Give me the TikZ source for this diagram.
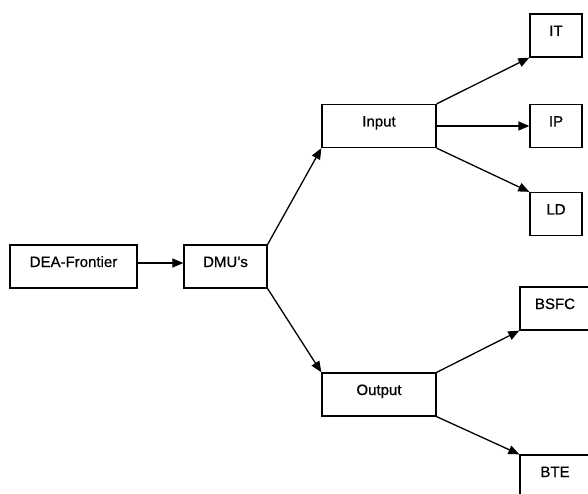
\documentclass[tikz,border=0pt]{standalone}
\usepackage{fontspec}
\setmainfont{Liberation Sans}
\newfontfamily\boxfont[FakeBold=0.7]{Liberation Sans}
\usetikzlibrary{arrows.meta}
\begin{document}
\begin{tikzpicture}[x=1pt,y=-1pt,
  box/.style={draw=black,line width=1.3pt,rectangle,minimum height=43pt,inner sep=0pt,
    text height=6pt,text depth=5pt,font=\boxfont\fontsize{15}{18}\selectfont},
  conn/.style={line width=1.3pt,-{Triangle[length=11pt,width=9pt]}}]
\clip (0,0) rectangle (588,494);
\fill[white] (0,0) rectangle (588,494);
\node[box,minimum width=127pt] (dea) at (73.5,266.5) {DEA-Frontier};
\node[box,minimum width=83pt] (dmu) at (225.5,266.5) {DMU’s};
\node[box,minimum width=114pt] (inp) at (379,126) {Input};
\node[box,minimum width=114pt] (out) at (379,394.5) {Output};
\node[box,minimum width=52pt] (it) at (556,35.5) {IT};
\node[box,minimum width=52pt] (ip) at (556,126) {IP};
\node[box,minimum width=52pt] (ld) at (556,214) {LD};
\node[box,minimum width=70pt] (bsfc) at (555,308.5) {BSFC};
\node[box,minimum width=70pt] (bte) at (555,476.5) {BTE};
\draw[conn] ([yshift=3.5pt]dea.east) -- ([yshift=3.5pt]dmu.west);
\draw[conn] (dmu.north east) -- (inp.south west);
\draw[conn] (dmu.south east) -- (out.north west);
\draw[conn] (inp.north east) -- (it.south west);
\draw[conn] (inp.east) -- (ip.west);
\draw[conn] (inp.south east) -- (ld.north west);
\draw[conn] (out.north east) -- (bsfc.south west);
\draw[conn] (out.south east) -- (bte.north west);
\end{tikzpicture}
\end{document}
